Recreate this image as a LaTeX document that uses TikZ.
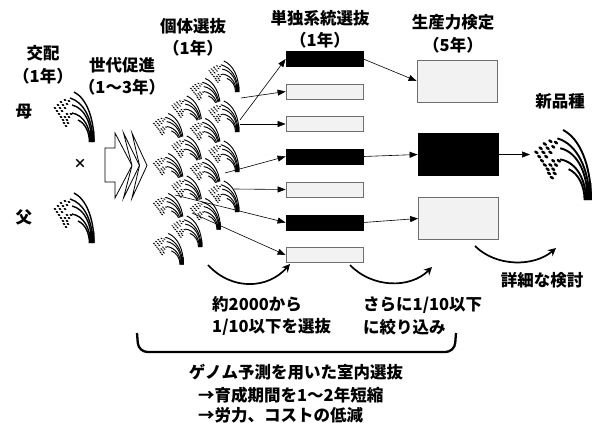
\documentclass[tikz,border=0pt]{standalone}
\usepackage{fontspec}
\setmainfont{Noto Sans CJK JP}
\usetikzlibrary{arrows.meta}

\definecolor{boxgray}{HTML}{F2F2F2}
\definecolor{edgegray}{HTML}{6E6E6E}

\tikzset{
  % rice plant: origin at the foot of the stalk, panicles hanging to the upper left
  rice/.pic={
    \fill[white] (1.5,0) .. controls (1.5,-26) and (-8,-45) .. (-20,-51)
      -- (-43,-42) -- (-37,-13) -- (-6,1) -- cycle;
    \draw (0,0) .. controls (0,-25) and (-8,-44) .. (-20,-50);
    \draw (-1.2,0) .. controls (-1.2,-22) and (-10,-40) .. (-24,-44);
    \draw (-2.4,0) .. controls (-2.4,-18) and (-9,-34) .. (-22,-37);
    \draw (-3.6,0) .. controls (-3.6,-14) and (-10,-27) .. (-22,-29);
    \draw (-4.6,0) .. controls (-4.6,-10) and (-9,-19) .. (-16,-22);
    \fill (-5,0) -- (0.6,0) -- (0.2,-12) -- (-3.5,-12) -- cycle;
    \foreach \gx/\gy in {-25/-41,-29/-42,-33/-40,-27/-38,-31/-37,-36/-37,
                         -29/-34,-34/-34,-39/-34,-32/-31,-37/-31,-35/-28,
                         -23/-28,-27/-28,-25/-25,-29/-25,-33/-25,-27/-22,
                         -31/-22,-26/-19,-30/-19,-28/-16}
      \fill[rotate around={-35:(\gx,\gy)}] (\gx,\gy) ellipse [x radius=1.7, y radius=1.0];
  },
  lbl/.style={font=\bfseries\fontsize{16.5}{22.5}\selectfont, inner sep=0pt, align=center},
  lbll/.style={lbl, align=left, anchor=west},
  linebox/.style={draw=edgegray, fill=boxgray, line width=0.8pt, minimum width=77pt,
    minimum height=15pt, inner sep=0pt},
  lineboxdark/.style={linebox, draw=black, fill=black},
  testbox/.style={draw=edgegray, fill=boxgray, line width=0.8pt, minimum width=80pt,
    minimum height=42pt, inner sep=0pt},
  testboxdark/.style={testbox, draw=black, fill=black},
  pick/.style={line width=0.6pt, -{Triangle[length=8pt,width=6pt]}},
  stage/.style={line width=1.7pt, -{Stealth[length=8pt,width=8pt]}},
  crossplant/.style={line width=1.4pt},
  seedling/.style={xscale=0.76, yscale=0.62, line width=0.95pt},
}

\begin{document}
\begin{tikzpicture}[x=1pt,y=-1pt]
\useasboundingbox (0,0) rectangle (595,423);

% stage headings
\node[lbl] (cross) at (43,65) {交配\\（1年）};
\node[lbl] (advance) at (122,76.5) {世代促進\\（1～3年）};
\node[lbl] (indiv) at (193,37.5) {個体選抜\\（1年）};
\node[lbl] (line) at (320,29) {単独系統選抜\\（1年）};
\node[lbl] (yield) at (453,34) {生産力検定\\（5年）};
\node[lbl] (variety) at (560,101.5) {新品種};

% parents
\node[lbl] (mother) at (24,112) {母};
\node[lbl] (father) at (24,217) {父};
\node[lbl, font=\bfseries\fontsize{13}{14}\selectfont] (times) at (80,164) {×};
\pic[crossplant] at (94,142) {rice};
\pic[crossplant] at (94,243) {rice};

% generation advance arrow
\draw[fill=white, line width=0.8pt] (105,148) -- (115,148) -- (115,133) -- (132,165.5)
  -- (115,198) -- (115,182) -- (105,182) -- cycle;
\draw[fill=white, line width=0.8pt] (123.5,133) -- (139.5,165.5) -- (123.5,198) -- (132,165.5) -- cycle;
\draw[fill=white, line width=0.8pt] (132,133) -- (147,165.5) -- (132,198) -- (139.5,165.5) -- cycle;

% individual plants, back rows first
\foreach \bx/\by in {239/92, 220.5/109.5, 202/127, 239/132, 183.5/144.5, 220.5/149.5,
                     202/167, 239/172, 183.5/184.5, 220.5/189.5, 202/207, 239/212,
                     183.5/224.5, 220.5/229.5, 202/247, 183.5/264.5}
  \pic[seedling] at (\bx,\by) {rice};

% line selection
\node[lineboxdark] (l1) at (324.5,59) {};
\node[linebox] (l2) at (324.5,91.5) {};
\node[linebox] (l3) at (324.5,124) {};
\node[lineboxdark] (l4) at (324.5,156.5) {};
\node[linebox] (l5) at (324.5,189.5) {};
\node[lineboxdark] (l6) at (324.5,222.5) {};
\node[linebox] (l7) at (324.5,255) {};

% yield trials
\node[testbox] (y1) at (457,81) {};
\node[testboxdark] (y2) at (458,154.5) {};
\node[testbox] (y3) at (458.5,218.5) {};

% picks from the individual plants
\coordinate (p1) at (240,120);
\coordinate (p2) at (241,98);
\coordinate (p3) at (240,124);
\coordinate (p4) at (225,173);
\coordinate (p5) at (234,189);
\coordinate (p6) at (175,195);
\coordinate (p7) at (192,213);
\draw[pick] (p1) -- (l1.west);
\draw[pick] (p2) -- (l2.west);
\draw[pick] (p3) -- (l3.west);
\draw[pick] (p4) -- (l4.west);
\draw[pick] (p5) -- (l5.west);
\draw[pick] (p6) -- (l6.west);
\draw[pick] (p7) -- (l7.west);

\draw[pick] (l1.east) -- (y1.west);
\draw[pick] (l4.east) -- (y2.west);
\draw[pick] (l6.east) -- (y3.west);

% released variety
\coordinate (rel) at (530,154.5);
\draw[pick] (y2.east) -- (rel);
\pic[line width=1.9pt, scale=1.4] at (591,200) {rice};

% curved stage arrows
\coordinate (c1s) at (208,265);
\coordinate (c1e) at (290,264);
\coordinate (c2s) at (350,265);
\coordinate (c2e) at (432,267);
\coordinate (c3s) at (475,246);
\coordinate (c3e) at (556,248);
\draw[stage] (c1s) .. controls (232,291) and (268,289) .. (c1e);
\draw[stage] (c2s) .. controls (372,288) and (410,289) .. (c2e);
\draw[stage] (c3s) .. controls (496,267) and (534,267) .. (c3e);

% notes
\node[lbll] (n1) at (212,316) {約2000から\\1/10以下を選抜};
\node[lbll] (n2) at (363,316) {さらに1/10以下\\に絞り込み};
\node[lbl] (n3) at (542,280) {詳細な検討};

% bracket over the genomic-selection stages
\coordinate (bl) at (137,333);
\coordinate (br) at (456,333);
\draw[line width=2.3pt, rounded corners=9pt] (bl) -- (138.5,352) -- (454.5,352) -- (br);

\node[lbl] (g1) at (296,372) {ゲノム予測を用いた室内選抜};
\node[lbll, font=\bfseries\fontsize{16.5}{20.5}\selectfont] (g2) at (198,405) {→育成期間を1～2年短縮\\→労力、コストの低減};
\end{tikzpicture}
\end{document}
